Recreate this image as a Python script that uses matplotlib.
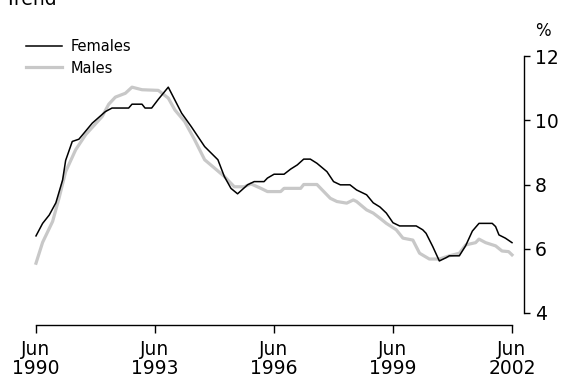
import pandas as pd
import matplotlib
matplotlib.use("Agg")
import matplotlib.pyplot as plt
import matplotlib.dates as mdates

# readings: months after Jun 1990, trend rate (%)
female_months = [0, 2, 4, 6, 8, 9, 11, 13, 17, 21, 23, 28, 29, 32, 33, 35, 37, 40,
                 44, 47, 51, 55, 57, 59, 61, 64, 66, 69, 70, 72, 75, 77, 79, 81,
                 83, 85, 88, 90, 92, 95, 97, 100, 102, 104, 106, 108, 110, 115,
                 117, 118, 120, 122, 124, 125, 128, 130, 132, 134, 138, 139, 140,
                 142, 144]
females = [6.4, 6.79, 7.05, 7.43, 8.14, 8.75, 9.34, 9.41, 9.91, 10.27, 10.38,
           10.38, 10.5, 10.5, 10.38, 10.38, 10.65, 11.03, 10.22, 9.8, 9.18,
           8.77, 8.25, 7.88, 7.71, 7.99, 8.09, 8.09, 8.2, 8.32, 8.32, 8.48,
           8.61, 8.79, 8.79, 8.66, 8.4, 8.09, 7.99, 7.99, 7.83, 7.68, 7.43,
           7.3, 7.11, 6.81, 6.71, 6.71, 6.59, 6.48, 6.07, 5.62, 5.72, 5.78,
           5.78, 6.1, 6.55, 6.79, 6.79, 6.69, 6.43, 6.33, 6.19]
male_months = [0, 2, 5, 7, 9, 12, 15, 20, 22, 24, 27, 29, 32, 37, 40, 42, 45, 48,
               51, 54, 57, 60, 63, 65, 68, 70, 74, 75, 80, 81, 85, 89, 91, 94,
               96, 97, 100, 102, 104, 106, 109, 111, 114, 116, 119, 122, 125,
               128, 130, 133, 134, 136, 139, 141, 143, 144]
males = [5.55, 6.2, 6.85, 7.6, 8.4, 9.08, 9.55, 10.12, 10.5, 10.72, 10.84,
         11.03, 10.95, 10.93, 10.69, 10.32, 9.96, 9.39, 8.77, 8.51, 8.25,
         7.93, 7.93, 8.02, 7.88, 7.78, 7.78, 7.88, 7.88, 8.0, 8.0, 7.57,
         7.47, 7.42, 7.52, 7.47, 7.21, 7.11, 6.95, 6.79, 6.59, 6.33, 6.27,
         5.86, 5.68, 5.68, 5.78, 5.86, 6.12, 6.19, 6.3, 6.19, 6.09, 5.93,
         5.91, 5.81]
tick_years = [1990, 1993, 1996, 1999, 2002]
yticks = [4, 6, 8, 10, 12]

start = pd.Timestamp("1990-06-01")
f_dates = [start + pd.DateOffset(months=m) for m in female_months]
m_dates = [start + pd.DateOffset(months=m) for m in male_months]
tick_dates = [pd.Timestamp(f"{y}-06-01") for y in tick_years]

W, H = 563, 379
fig = plt.figure(figsize=(W / 100, H / 100), dpi=100)
ax = fig.add_axes([36 / W, 66 / H, 476 / W, 257 / H])

ax.plot(m_dates, males, color="#c8c8c8", lw=2.3, label="Males", clip_on=False)
ax.plot(f_dates, females, color="black", lw=1.1, label="Females", clip_on=False)

ax.set_xlim(tick_dates[0], tick_dates[-1])
ax.set_ylim(4, 12)

for s in ["top", "left"]:
    ax.spines[s].set_visible(False)
ax.spines["right"].set_position(("outward", 8.6))
ax.spines["bottom"].set_position(("outward", 8.6))
ax.spines["right"].set_bounds(4, 12)
ax.spines["bottom"].set_bounds(mdates.date2num(tick_dates[0]), mdates.date2num(tick_dates[-1]))
for s in ["right", "bottom"]:
    ax.spines[s].set_linewidth(1.0)

ax.yaxis.tick_right()
ax.set_yticks(yticks)
ax.set_yticklabels([str(v) for v in yticks])
ax.set_xticks(tick_dates)
ax.set_xticklabels([f"Jun\n{y}" for y in tick_years], linespacing=1.0)
ax.tick_params(axis="y", direction="out", length=4, width=1.0, pad=4, labelsize=13.5)
ax.tick_params(axis="x", direction="out", length=6, width=1.0, pad=5, labelsize=13.5)

handles, labels = ax.get_legend_handles_labels()
ax.legend(handles[::-1], labels[::-1], loc="upper left", frameon=False,
          bbox_to_anchor=(26 / W, 1 - 39 / H), bbox_transform=fig.transFigure,
          borderpad=0, borderaxespad=0, handlelength=2.5, handletextpad=0.55,
          labelspacing=0.45, fontsize=10.5)

fig.text(5 / W, 1 - 5 / H, "Trend", fontsize=13.5, va="baseline", ha="left")
fig.text(535 / W, 1 - 36 / H, "%", fontsize=12, va="baseline", ha="left")

fig.savefig("out.png", dpi=100)
